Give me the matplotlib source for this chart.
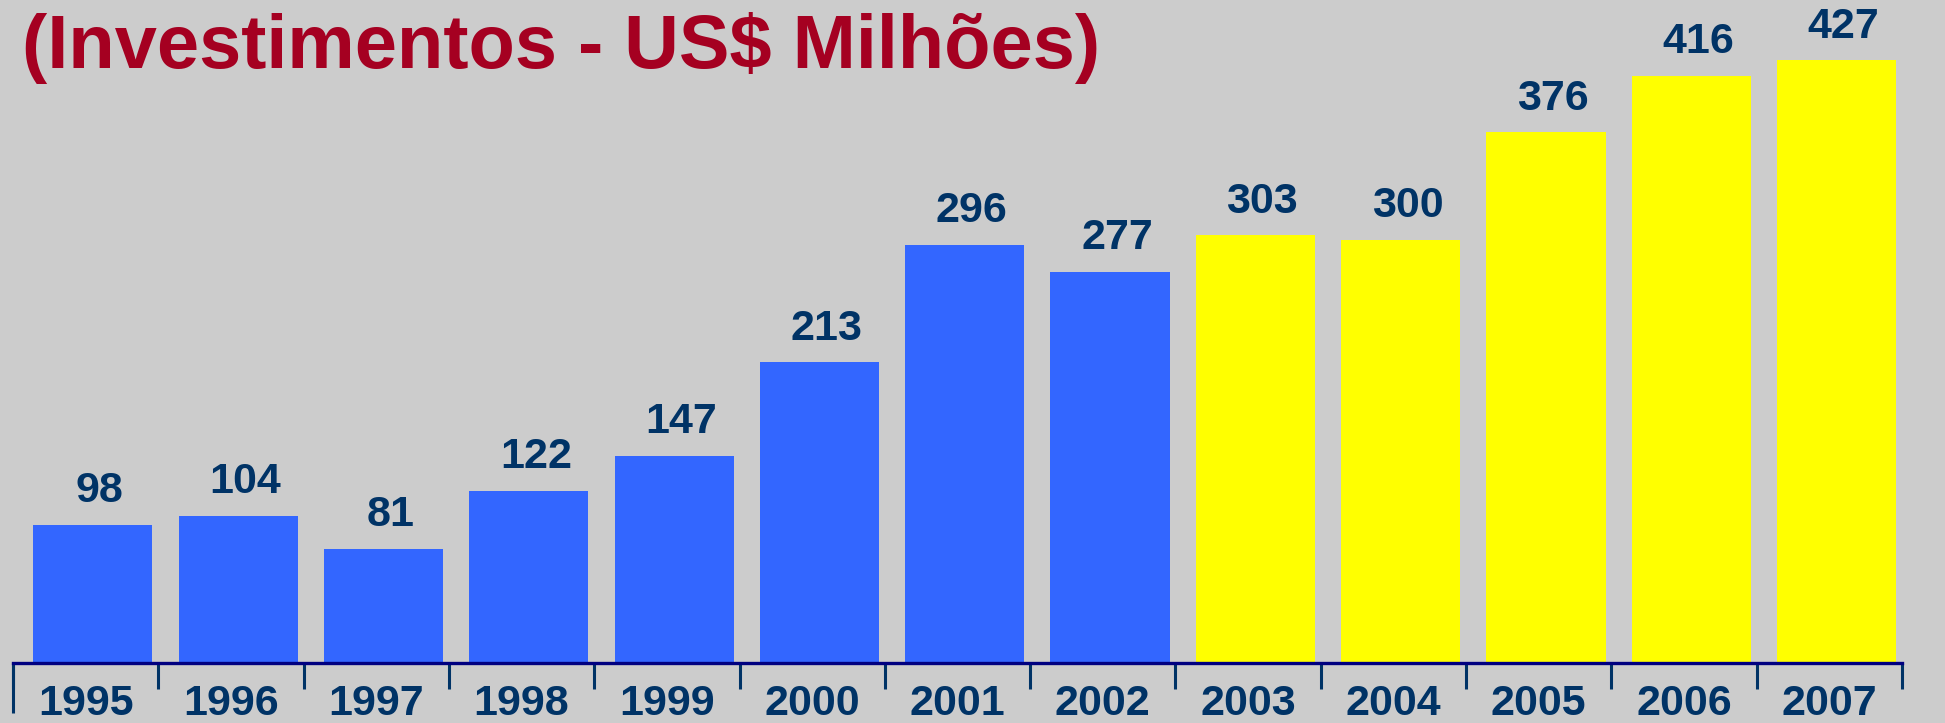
import matplotlib
matplotlib.use("Agg")
import matplotlib.pyplot as plt
import matplotlib.transforms as mtransforms
import numpy as np

# Investment per year, US$ millions
years = ["1995", "1996", "1997", "1998", "1999", "2000", "2001",
         "2002", "2003", "2004", "2005", "2006", "2007"]
values = [98, 104, 81, 122, 147, 213, 296, 277, 303, 300, 376, 416, 427]
highlight_from = "2003"

BG = "#CCCCCC"
BLUE = "#3366FF"
YELLOW = "#FFFF00"
TITLE_RED = "#A50021"
NAVY = "#003366"
AXIS_NAVY = "#000080"

plt.rcParams["font.family"] = ["Liberation Sans", "DejaVu Sans"]

W, H, DPI = 1945, 723, 100
fig = plt.figure(figsize=(W / DPI, H / DPI), dpi=DPI, facecolor=BG)

x0_px, x1_px = 13, 1902
base_px, top_px = 663, 28
ax = fig.add_axes([x0_px / W, (H - base_px) / H,
                   (x1_px - x0_px) / W, (base_px - top_px) / H])
ax.set_facecolor(BG)

n = len(years)
xpos = np.arange(n) + 0.05
split = years.index(highlight_from)
colors = [BLUE if i < split else YELLOW for i in range(n)]
bars = ax.bar(xpos, values, width=0.82, color=colors, edgecolor="none", zorder=2)

ax.set_xlim(-0.5, n - 0.5)
ax.set_ylim(0, 450)

for b, v in zip(bars, values):
    ax.annotate(str(v), (b.get_x() + b.get_width() / 2, b.get_height()),
                xytext=(5, 10), textcoords="offset points",
                ha="center", va="bottom", fontsize=31, fontweight="bold",
                color=NAVY)

for s in ["left", "right", "top"]:
    ax.spines[s].set_visible(False)
ax.spines["bottom"].set_color(AXIS_NAVY)
ax.spines["bottom"].set_linewidth(2.4)
ax.spines["bottom"].set_zorder(3)
ax.yaxis.set_visible(False)

ax.set_xticks(np.arange(n))
ax.set_xticklabels(years, fontsize=31, fontweight="bold", color=NAVY)
ax.tick_params(axis="x", which="major", length=0, pad=15)
ax.set_xticks(np.arange(n + 1) - 0.5, minor=True)
ax.tick_params(axis="x", which="minor", length=19, width=2.2, color=NAVY,
               direction="out")

# the leftmost boundary mark runs further down
trans = mtransforms.blended_transform_factory(ax.transData, fig.transFigure)
ax.plot([-0.5, -0.5], [(H - base_px) / H, (H - 713) / H], transform=trans,
        color=NAVY, lw=2.2, clip_on=False, solid_capstyle="butt")

fig.text(22 / W, 1 - 68 / H, "(Investimentos - US$ Milhões)",
         ha="left", va="baseline", fontsize=54.5, fontweight="bold",
         color=TITLE_RED)

fig.savefig("out.png", dpi=DPI, facecolor=BG)
